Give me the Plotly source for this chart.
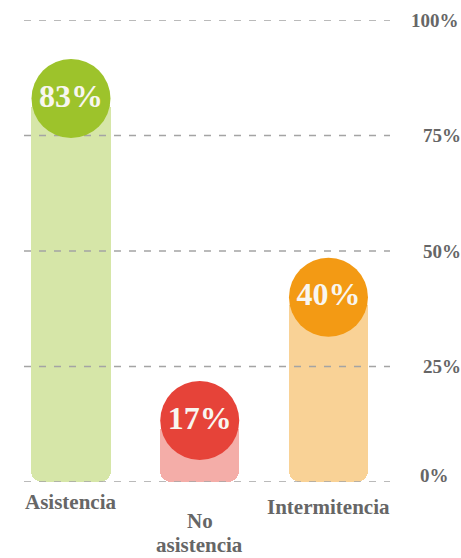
import plotly.graph_objects as go

categories = ["Asistencia", "No asistencia", "Intermitencia"]
values = [83, 17, 40]
bar_heights = [83, 13.3, 40]          # drawn height of each bar
tick_values = [0, 25, 50, 75, 100]
tick_labels = ["0%", "25%", "50%", "75%", "100%"]

light_colors = ["#D6E6A8", "#F4ADA8", "#F9D296"]
dark_colors = ["#9DC32B", "#E64339", "#F39A14"]

FONT = "Liberation Serif"
GRAY = "#666666"

x_idx = list(range(len(categories)))
x_range = [-0.365, 2.478]

fig = go.Figure()

# light bars, drawn downward from the top so that the rounded end is at the bottom
fig.add_trace(go.Bar(
    x=x_idx, y=[-h for h in bar_heights], base=bar_heights,
    width=0.614, marker=dict(color=light_colors, cornerradius=11, line=dict(width=0)),
    hoverinfo="skip", showlegend=False,
))

# dashed gridlines (between bars and badges)
for tv in tick_values:
    fig.add_trace(go.Scatter(
        x=x_range, y=[tv, tv], mode="lines",
        line=dict(color="#A4A4A4", width=1.7, dash="7px,8px"),
        hoverinfo="skip", showlegend=False, cliponaxis=False,
    ))

# badges
fig.add_trace(go.Scatter(
    x=x_idx, y=bar_heights, mode="markers+text",
    marker=dict(size=79, color=dark_colors, line=dict(width=0), opacity=1),
    text=[f"{v}%" for v in values], textposition="middle center",
    textfont=dict(family=FONT, size=32, color="#F8F6F0", weight="bold"),
    hoverinfo="skip", showlegend=False, cliponaxis=False,
))

annotations = []
# y tick labels on the right
tick_xshift = {100: -12, 0: -3}
tick_yshift = {0: 7}
for tv, tl in zip(tick_values, tick_labels):
    annotations.append(dict(
        x=1, xref="paper", y=tv, yref="y", text=f"<b>{tl}</b>", showarrow=False,
        xanchor="left", yanchor="middle", xshift=31 + tick_xshift.get(tv, 0),
        yshift=tick_yshift.get(tv, 0),
        font=dict(family=FONT, size=19, color=GRAY),
    ))

# category labels (one annotation per line)
cat_yshift = [-20, -39, -25]
LINE = 24
for i, (c, ys) in enumerate(zip(categories, cat_yshift)):
    lines = c.split(" ") if c == "No asistencia" else [c]
    for k, ln in enumerate(lines):
        annotations.append(dict(
            x=i, xref="x", y=0, yref="y", text=f"<b>{ln}</b>", showarrow=False,
            xanchor="center", yanchor="middle", yshift=ys - k * LINE,
            font=dict(family=FONT, size=21, color=GRAY), borderpad=0,
        ))

fig.update_layout(
    width=461, height=558,
    margin=dict(l=24, r=71, t=20, b=76),
    paper_bgcolor="white", plot_bgcolor="white",
    xaxis=dict(range=x_range, visible=False, fixedrange=True),
    yaxis=dict(range=[0, 100], visible=False, fixedrange=True),
    annotations=annotations,
    bargap=0,
)

fig.write_html(
    "out.html",
    config={"displayModeBar": False},
    post_script="document.body.style.margin='0';document.body.style.overflow='hidden';",
)
